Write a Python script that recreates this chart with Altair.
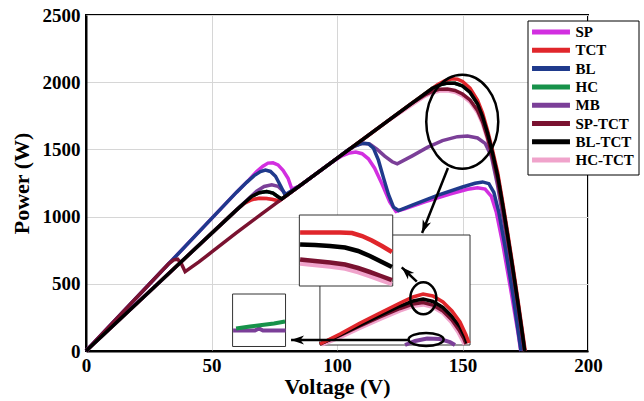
import altair as alt
import pandas as pd

SERIES = ["SP", "TCT", "BL", "HC", "MB", "SP-TCT", "BL-TCT", "HC-TCT"]
COLORS = ["#d22fe0", "#e0262b", "#1f3a8c", "#17924a", "#7b3f98", "#7a1230", "#000000", "#f0a3cb"]
DRAW_ORDER = ["HC", "HC-TCT", "TCT", "MB", "SP", "BL", "SP-TCT", "BL-TCT"]

X_TICKS = [0, 50, 100, 150, 200]
Y_TICKS = [0, 500, 1000, 1500, 2000, 2500]

sp_v = [0, 30, 60, 65, 68, 70.5, 72.5, 74.5, 76.5, 78.5, 80.5, 82, 85, 90, 95, 99, 102, 105, 107.5, 110, 112.5, 115, 118, 121, 123.5, 127, 135, 145, 152, 156, 159, 161.5, 163.5, 166, 169, 172, 173.2]
sp_p = [0, 591, 1182, 1275, 1335, 1375, 1398, 1400, 1385, 1345, 1285, 1205, 1227, 1296, 1364, 1418, 1452, 1474, 1480, 1468, 1430, 1360, 1240, 1110, 1038, 1058, 1110, 1168, 1203, 1215, 1205, 1150, 1030, 800, 480, 150, 0]

bl_v = [0, 30, 60, 64, 67, 69.5, 71.5, 73.5, 75.5, 77.5, 79.3, 85, 90, 95, 100, 104, 107, 110, 112.5, 114.5, 116.5, 118.5, 120.5, 122.5, 124.5, 130, 140, 150, 155, 158, 160.5, 162.5, 164.5, 167, 170, 173.3]
bl_p = [0, 591, 1182, 1255, 1305, 1335, 1346, 1336, 1300, 1230, 1162, 1227, 1296, 1364, 1433, 1490, 1525, 1545, 1542, 1510, 1420, 1290, 1165, 1070, 1045, 1085, 1158, 1220, 1248, 1258, 1245, 1180, 1030, 770, 430, 0]

tct_v = [0, 30, 60, 63, 66, 69, 72, 74.5, 77, 80, 85, 90, 95, 100, 110, 120, 130, 140, 143, 146, 148, 150, 153, 156, 158, 160, 162, 164, 166, 168, 170, 172, 174, 175]
tct_p = [0, 525, 1050, 1098, 1126, 1137, 1135, 1127, 1117, 1158, 1227, 1296, 1364, 1433, 1570, 1708, 1846, 1982, 2012, 2025, 2022, 2005, 1955, 1865, 1770, 1640, 1490, 1330, 1110, 880, 640, 390, 130, 0]

hc_v = [0, 30, 60, 66, 69, 72, 74.5, 76.5, 78, 85, 100, 120, 138, 141, 144, 147, 150, 153, 156, 158, 160, 162, 164, 166, 168, 170, 172, 174, 174.8]
hc_p = [0, 525, 1050, 1150, 1178, 1186, 1175, 1148, 1131, 1227, 1433, 1708, 1955, 1980, 1993, 1992, 1972, 1925, 1840, 1745, 1620, 1470, 1305, 1090, 860, 620, 370, 110, 0]

mb_v = [0, 30, 60, 68, 71, 74, 76.5, 78.5, 80, 85, 90, 95, 100, 104, 107, 110, 113, 116, 119, 122, 124, 130, 136, 142, 148, 152, 156, 159, 161.5, 164, 167, 170, 173, 174]
mb_p = [0, 525, 1050, 1190, 1224, 1237, 1226, 1190, 1158, 1227, 1296, 1364, 1433, 1490, 1525, 1545, 1540, 1500, 1450, 1408, 1392, 1452, 1515, 1565, 1595, 1600, 1585, 1545, 1450, 1230, 900, 540, 130, 0]

sptct_v = [0, 20, 33, 35, 36.5, 38, 39.5, 45, 50, 60, 70, 80, 90, 100, 110, 120, 130, 135, 138, 141, 144, 147, 150, 153, 156, 158, 160, 162, 164, 166, 168, 170, 172, 174, 174.7]
sptct_p = [0, 394, 650, 678, 683, 650, 590, 663, 735, 880, 1020, 1158, 1296, 1433, 1570, 1708, 1846, 1905, 1932, 1948, 1950, 1938, 1912, 1868, 1790, 1705, 1585, 1440, 1275, 1065, 835, 600, 350, 90, 0]

bltct_v = [0, 30, 60, 66, 69, 72, 74.5, 76.5, 78, 85, 100, 120, 138, 141, 144, 147, 150, 153, 156, 158, 160, 162, 164, 166, 168, 170, 172, 174, 174.8]
bltct_p = [0, 525, 1050, 1150, 1178, 1186, 1175, 1148, 1131, 1227, 1433, 1708, 1955, 1980, 1993, 1992, 1972, 1925, 1840, 1745, 1620, 1470, 1305, 1090, 860, 620, 370, 110, 0]

hctct_v = [0, 30, 60, 63, 66, 69, 72, 74.5, 77, 85, 100, 120, 135, 138, 141, 144, 147, 150, 153, 156, 158, 160, 162, 164, 166, 168, 170, 172, 174, 174.6]
hctct_p = [0, 525, 1050, 1098, 1126, 1137, 1135, 1127, 1117, 1227, 1433, 1708, 1895, 1922, 1935, 1937, 1925, 1898, 1852, 1772, 1688, 1570, 1425, 1260, 1050, 820, 585, 335, 75, 0]

# inset boxes (data coordinates): V1, V2, P1, P2
box_v1 = [93.2, 85.0, 58.4]
box_v2 = [153.0, 122.2, 79.5]
box_p1 = [44.6, 483.6, 33.5]
box_p2 = [863.0, 1011.8, 424.0]

# big inset curves
in_red_v = [93.2, 101.2, 109.2, 117.1, 125.1, 130.3, 134.3, 138.2, 142.2, 145.8, 149.0, 151.4, 152.6]
in_red_p = [52, 126.5, 208.3, 282.7, 357.1, 401.8, 424.1, 409.2, 364.6, 297.6, 215.8, 119, 59.5]
in_blk_v = [93.2, 101.2, 109.2, 117.1, 125.1, 130.3, 134.3, 138.2, 142.2, 145.8, 149.0, 151.0, 151.8]
in_blk_p = [52, 119, 193.4, 264.1, 334.8, 372, 386.9, 368.3, 323.6, 256.7, 178.6, 104.2, 59.5]
in_mar_v = [93.2, 101.2, 109.2, 117.1, 125.1, 130.3, 134.3, 138.2, 142.2, 145.8, 148.6, 150.6, 151.4]
in_mar_p = [52, 115.3, 186, 253, 316.2, 349.7, 360.8, 342.2, 297.6, 230.6, 156.2, 89.3, 52]
in_pnk_v = [94, 101.2, 109.2, 117.1, 125.1, 130.3, 134.3, 138.2, 142.2, 145.5, 148.2, 150.0, 150.8]
in_pnk_p = [46, 100, 170, 236, 299, 332, 343, 325, 280, 213, 140, 75, 46]
in_pur_v = [127.1, 131.1, 135.9, 141.0, 145.0, 147.0]
in_pur_p = [44.6, 74.4, 93, 89.3, 67, 44.6]

# zoom box 1 (peak detail)
z1_v = [85.3, 91.2, 97.2, 103.2, 108.4, 113.1, 117.5, 121.9]
z1_red_v = [85.3, 93.2, 101.2, 106.0, 110.0, 113.9, 117.9, 121.9]
z1_red_p = [881.6, 881.6, 881.6, 877.9, 855.6, 822.1, 781.2, 736.6]
z1_blk_p = [792.4, 788.6, 781.2, 770.0, 744.0, 706.8, 665.9, 625.0]
z1_mar_p = [680.8, 669.6, 658.4, 643.6, 617.5, 587.8, 558.0, 528.2]
z1_pnk_p = [651.0, 639.8, 628.7, 613.8, 587.8, 558.0, 528.2, 498.5]

# zoom box 2 (low power detail)
z2_grn_v = [59.8, 65.3, 70.1, 74.9, 79.3]
z2_grn_p = [167.4, 182.3, 193.4, 204.6, 219.5]
z2_pur_v = [58.6, 67.3, 68.9, 70.5, 79.5]
z2_pur_p = [152.5, 152.5, 167.4, 152.5, 152.5]

# ellipses: centre V, P
ell_v = [149.9, 134.4, 135.5]
ell_p = [1706, 392, 85.6]

# arrows: start V,P -> tip V,P, head angle
arr_v1 = [144.2, 131.8, 128.3]
arr_p1 = [1361.5, 515.6, 81.8]
arr_v2 = [133.9, 125.8, 81.7]
arr_p2 = [877.9, 622.7, 81.8]
arr_ang = [201.8, 314, 270]

FONT = "Liberation Serif"

xs = alt.Scale(domain=[0, 200], nice=False, zero=False)
ys = alt.Scale(domain=[0, 2500], nice=False, zero=False)
X = alt.X("V:Q", scale=xs, axis=alt.Axis(values=X_TICKS, title="Voltage (V)", grid=True,
                                          labelFlush=False, format="d", labelPadding=5, titlePadding=1))
Y = alt.Y("P:Q", scale=ys, axis=alt.Axis(values=Y_TICKS, title="Power (W)", grid=True,
                                          labelFlush=False, format="d", labelPadding=6, titlePadding=9))

series_data = {
    "SP": (sp_v, sp_p), "TCT": (tct_v, tct_p), "BL": (bl_v, bl_p), "HC": (hc_v, hc_p),
    "MB": (mb_v, mb_p), "SP-TCT": (sptct_v, sptct_p), "BL-TCT": (bltct_v, bltct_p),
    "HC-TCT": (hctct_v, hctct_p),
}
rows = []
for name, (vs, ps) in series_data.items():
    for i, (v, p) in enumerate(zip(vs, ps)):
        rows.append({"series": name, "V": v, "P": p, "i": i})
df = pd.DataFrame(rows)

color = alt.Color("series:N", scale=alt.Scale(domain=SERIES, range=COLORS), legend=alt.Legend(title=None))

layers = []
for name in DRAW_ORDER:
    layers.append(
        alt.Chart(df).transform_filter(alt.datum.series == name)
        .mark_line(strokeWidth=3.5)
        .encode(x=X, y=Y, color=color, order="i:Q")
    )

boxes = pd.DataFrame({"V": box_v1, "V2": box_v2, "P": box_p1, "P2": box_p2, "k": [0, 1, 2]})
for k in [0, 1, 2]:
    layers.append(
        alt.Chart(boxes).transform_filter(alt.datum.k == k)
        .mark_rect(fill="white", stroke="#333333", strokeWidth=1)
        .encode(x=X, x2="V2:Q", y=Y, y2="P2:Q")
    )

def inset_line(vs, ps, col, w=3.5):
    d = pd.DataFrame({"V": vs, "P": ps, "i": list(range(len(vs)))})
    return alt.Chart(d).mark_line(strokeWidth=w, color=col).encode(x=X, y=Y, order="i:Q")

layers += [
    inset_line(in_pnk_v, in_pnk_p, COLORS[7]),
    inset_line(in_mar_v, in_mar_p, COLORS[5]),
    inset_line(in_blk_v, in_blk_p, COLORS[6]),
    inset_line(in_red_v, in_red_p, COLORS[1]),
    inset_line(in_pur_v, in_pur_p, COLORS[4], 4),
    inset_line(z1_red_v, z1_red_p, COLORS[1], 4.5),
    inset_line(z1_v, z1_blk_p, COLORS[6], 4.5),
    inset_line(z1_v, z1_pnk_p, COLORS[7], 4.5),
    inset_line(z1_v, z1_mar_p, COLORS[5], 4.5),
    inset_line(z2_pur_v, z2_pur_p, COLORS[4], 4),
    inset_line(z2_grn_v, z2_grn_p, COLORS[3], 4),
]

ell_shapes = [
    "M-0.766,0 A0.766,1 0 1,1 0.766,0 A0.766,1 0 1,1 -0.766,0 Z",
    "M-0.8125,0 A0.8125,1 0 1,1 0.8125,0 A0.8125,1 0 1,1 -0.8125,0 Z",
    "M-1,0 A1,0.371 0 1,1 1,0 A1,0.371 0 1,1 -1,0 Z",
]
ell_sizes = [8836, 1024, 1225]
ells = pd.DataFrame({"V": ell_v, "P": ell_p, "k": [0, 1, 2]})
for k in range(3):
    layers.append(
        alt.Chart(ells).transform_filter(alt.datum.k == k)
        .mark_point(shape=ell_shapes[k], size=ell_sizes[k], filled=False, color="black", strokeWidth=2.5, opacity=1)
        .encode(x=X, y=Y)
    )

arrows = pd.DataFrame({"V": arr_v1, "P": arr_p1, "V2": arr_v2, "P2": arr_p2, "ang": arr_ang})
layers.append(
    alt.Chart(arrows).mark_rule(color="black", strokeWidth=2.5)
    .encode(x=X, y=Y, x2="V2:Q", y2="P2:Q")
)
heads = pd.DataFrame({"V": arr_v2, "P": arr_p2, "ang": arr_ang})
layers.append(
    alt.Chart(heads).mark_point(shape="M0,0 L0.55,1.6 L0,1.15 L-0.55,1.6 Z", size=263, filled=True, color="black", opacity=1)
    .encode(x=X, y=Y, angle=alt.Angle("ang:Q", scale=None))
)

chart = alt.layer(*layers).properties(
    width=502, height=336,
    autosize=alt.AutoSizeParams(type="none"),
    padding={"left": 86, "top": 15, "right": 56, "bottom": 50},
).configure_view(
    stroke="black", strokeWidth=2
).configure_axis(
    labelFont=FONT, labelFontSize=19, labelFontWeight="bold", labelColor="black",
    titleFont=FONT, titleFontSize=22, titleFontWeight="bold", titleColor="black",
    domainColor="black", domainWidth=2, gridColor="#d6d6d6", gridWidth=1,
    tickSize=0,
).configure_legend(
    orient="none", legendX=441.5, legendY=5.5, fillColor="white", strokeColor="black",
    padding=4, labelFont=FONT, labelFontSize=15, labelFontWeight="bold", labelColor="black",
    symbolType="M-4,0L4,0", symbolSize=90, symbolStrokeWidth=5, rowPadding=-2.7,
    symbolOffset=12, labelOffset=17, cornerRadius=0,
)

chart.save("out.html", embed_options={"renderer": "svg", "actions": False})
